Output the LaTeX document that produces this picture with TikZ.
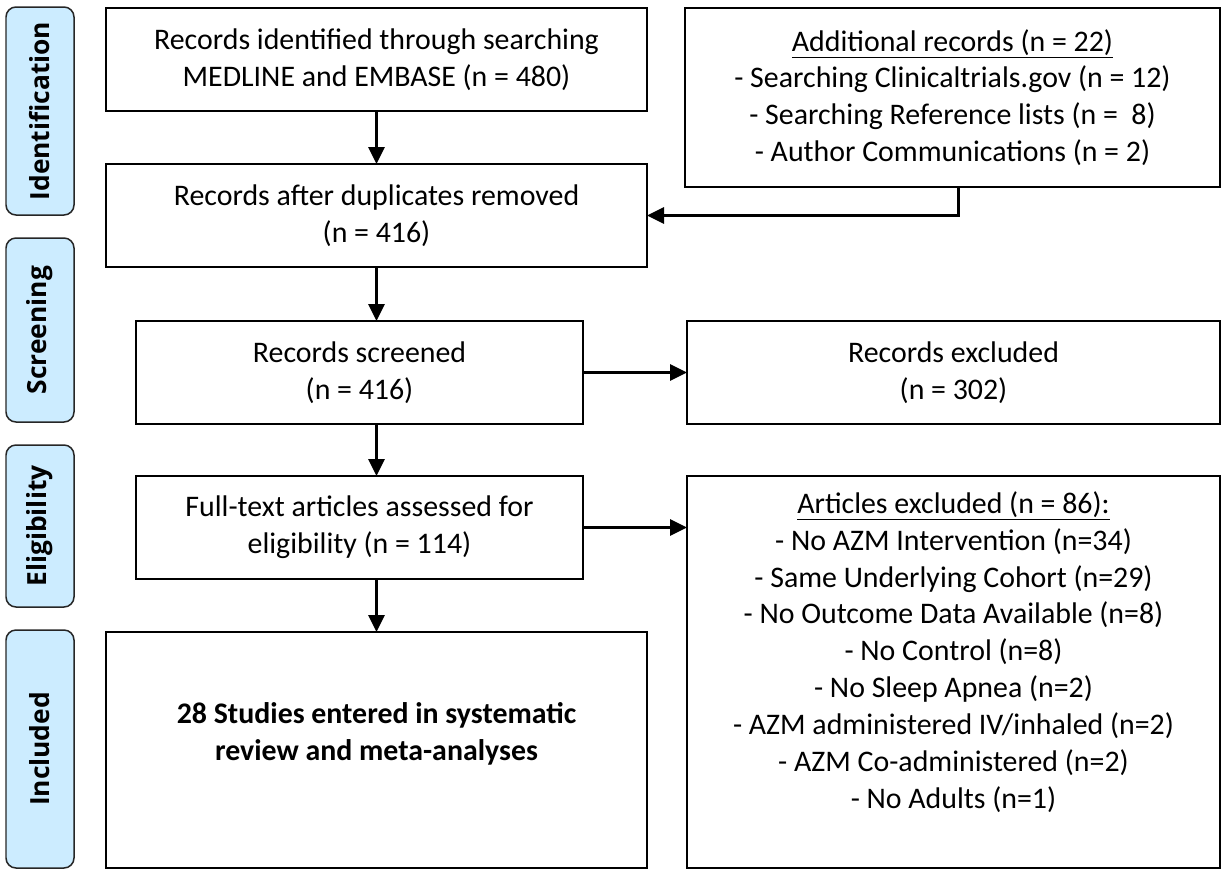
\documentclass[tikz,border=0pt]{standalone}
\usepackage{fontspec}
\setmainfont{Carlito}
\newfontfamily\sidefont{Open Sans}
\usetikzlibrary{arrows.meta,positioning}
\definecolor{phaseblue}{RGB}{204,236,255}
\newcommand{\pxl}{0.02cm}

\begin{document}
\begin{tikzpicture}[x=0.02cm,y=-0.02cm,
  box/.style={draw,line width=0.04cm,inner sep=0pt,outer sep=0pt,align=center,
    font=\fontsize{17}{21}\selectfont},
  boxtext/.style={align=center,inner sep=0pt,font=\fontsize{17}{21}\selectfont},
  phase/.style={draw=black!85,fill=phaseblue,rounded corners=0.2cm,line width=0.03cm,
    rotate=90,minimum height=68*\pxl,inner sep=0pt,outer sep=0pt,
    font=\sidefont\bfseries\fontsize{15}{18}\selectfont},
  arr/.style={line width=0.06cm,-{Triangle[length=0.34cm,width=0.32cm]}}]
\useasboundingbox (0,0) rectangle (1225,870);

% phases
\node[phase,minimum width=208*\pxl] (ident) at (40,111) {Identification};
\node[phase,minimum width=184*\pxl] (screen) at (40,330) {Screening};
\node[phase,minimum width=162*\pxl] (elig) at (40,526) {Eligibility};
\node[phase,minimum width=238*\pxl] (incl) at (40,749) {Included};

% boxes
\node[box,minimum width=541*\pxl,minimum height=103*\pxl] (found) at (376.5,59.5)
  {Records identified through searching\\MEDLINE and EMBASE (n = 480)};
\node[box,minimum width=535*\pxl,minimum height=179*\pxl] (extra) at (952.5,97.5)
  {\underline{Additional records (n = 22)}\\- Searching Clinicaltrials.gov (n = 12)\\
   - Searching Reference lists (n = \ 8)\\- Author Communications (n = 2)};
\node[box,minimum width=541*\pxl,minimum height=103*\pxl] (dedup) at (376.5,215.5)
  {Records after duplicates removed\\(n = 416)};
\node[box,minimum width=447*\pxl,minimum height=103*\pxl] (screened) at (359.5,372.5)
  {Records screened\\(n = 416)};
\node[box,minimum width=533*\pxl,minimum height=103*\pxl] (excl) at (953.5,372.5)
  {Records excluded\\(n = 302)};
\node[box,minimum width=447*\pxl,minimum height=103*\pxl] (fulltext) at (359.5,527.5)
  {Full-text articles assessed for\\eligibility (n = 114)};
\node[box,minimum width=533*\pxl,minimum height=392*\pxl] (artexcl) at (953.5,672) {};
\node[boxtext,below=0.3cm of artexcl.north] (reasons)
  {\underline{Articles excluded (n = 86):}\\- No AZM Intervention (n=34)\\
   - Same Underlying Cohort (n=29)\\- No Outcome Data Available (n=8)\\
   - No Control (n=8)\\- No Sleep Apnea (n=2)\\- AZM administered IV/inhaled (n=2)\\
   - AZM Co-administered (n=2)\\- No Adults (n=1)};
\node[box,minimum width=541*\pxl,minimum height=236*\pxl] (studies) at (376.5,750) {};
\node[boxtext,font=\bfseries\fontsize{17}{21}\selectfont,below=1.4cm of studies.north] (result)
  {28 Studies entered in systematic\\review and meta-analyses};

% arrows
\draw[arr] (found.south) -- (dedup.north);
\draw[arr] ([xshift=0.11cm]extra.south) |- (dedup.east);
\draw[arr] (dedup.south) -- (dedup.south |- screened.north);
\draw[arr] (screened.east) -- (excl.west);
\draw[arr] (dedup.south |- screened.south) -- (dedup.south |- fulltext.north);
\draw[arr] (fulltext.east) -- (fulltext.east -| artexcl.west);
\draw[arr] (dedup.south |- fulltext.south) -- (studies.north);
\end{tikzpicture}
\end{document}
